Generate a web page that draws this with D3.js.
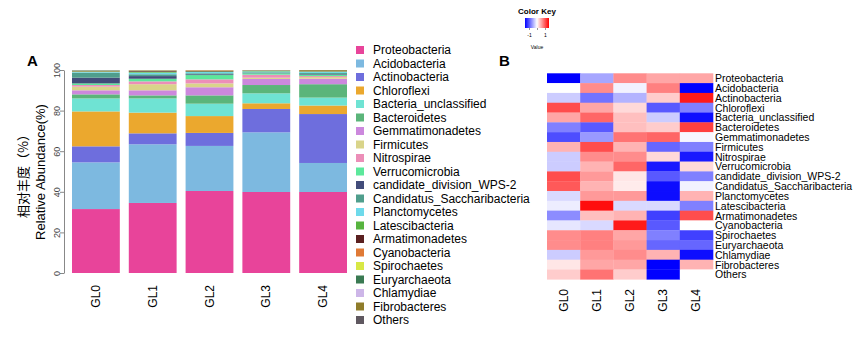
<!DOCTYPE html>
<html lang="en">
<head>
<meta charset="UTF-8">
<title>Relative abundance and heatmap</title>
<script src="https://d3js.org/d3.v7.min.js"></script>
<style>
  body { margin: 0; background: #fff; }
  svg { display: block; font-family: "Liberation Sans", Arial, sans-serif; }
</style>
</head>
<body>
<svg id="chart" width="865" height="341"></svg>
<script>
const groups = ["GL0", "GL1", "GL2", "GL3", "GL4"];

const phyla = [
  "Proteobacteria", "Acidobacteria", "Actinobacteria", "Chloroflexi",
  "Bacteria_unclassified", "Bacteroidetes", "Gemmatimonadetes", "Firmicutes",
  "Nitrospirae", "Verrucomicrobia", "candidate_division_WPS-2",
  "Candidatus_Saccharibacteria", "Planctomycetes", "Latescibacteria",
  "Armatimonadetes", "Cyanobacteria", "Spirochaetes", "Euryarchaeota",
  "Chlamydiae", "Fibrobacteres", "Others"
];

const phylumColors = [
  "#e8449a", "#7db9e0", "#6e6edd", "#eba82e", "#6fe3d3", "#5bb57a",
  "#cc88dd", "#d9d48a", "#ec8eb8", "#5ce89b", "#424c7a", "#4f9e8c",
  "#6edaeb", "#57b43f", "#5a2020", "#e07a36", "#d8e845", "#3a7a52",
  "#cdb6e8", "#8f7c2a", "#5f5860"
];

// relative abundance (%) per group, same order as phyla
const gl0 = [31.5, 23.0, 7.9, 17.2, 6.4, 2.0, 2.0, 1.8, 0.8, 0.8, 2.8, 2.5, 0.3, 0.3, 0.1, 0.1, 0.1, 0.2, 0.1, 0.05, 0.05];
const gl1 = [34.5, 28.9, 5.4, 10.2, 7.0, 1.5, 2.5, 3.0, 1.4, 1.3, 1.3, 0.9, 0.8, 0.5, 0.3, 0.1, 0.1, 0.1, 0.05, 0.1, 0.05];
const gl2 = [40.4, 22.2, 6.4, 8.3, 6.1, 4.1, 4.0, 1.9, 2.0, 2.1, 0.4, 0.5, 0.6, 0.3, 0.2, 0.3, 0.05, 0.05, 0.05, 0.03, 0.02];
const gl3 = [39.9, 29.4, 11.5, 2.8, 4.9, 4.1, 3.0, 0.6, 1.5, 0.7, 0.2, 0.3, 0.4, 0.2, 0.05, 0.05, 0.05, 0.1, 0.05, 0.15, 0.05];
const gl4 = [39.9, 14.3, 24.1, 4.2, 3.9, 6.6, 2.7, 0.8, 0.5, 0.7, 0.3, 0.5, 0.5, 0.2, 0.1, 0.05, 0.05, 0.1, 0.05, 0.4, 0.05];

const yTicks = [0, 20, 40, 60, 80, 100];

// scaled values for heatmap, one row per phylum, columns GL0..GL4
const heatRows = [
  [-1.0, -0.35, 0.45, 0.35, 0.35],
  [0.0, 0.45, -0.05, 0.5, -1.0],
  [-0.2, -0.55, -0.3, 0.2, 0.9],
  [0.7, 0.35, 0.15, -0.65, -0.5],
  [0.35, 0.6, 0.25, -0.2, -0.95],
  [-0.5, -0.65, 0.25, 0.2, 0.75],
  [-0.7, -0.4, 0.55, 0.6, -0.03],
  [0.3, 0.7, 0.3, -0.6, -0.5],
  [-0.2, 0.45, 0.45, 0.15, -0.9],
  [-0.2, 0.3, 0.6, -0.9, 0.15],
  [0.7, 0.4, 0.1, -0.65, -0.5],
  [0.65, 0.3, 0.08, -0.95, -0.05],
  [-0.15, 0.4, 0.4, -0.95, 0.3],
  [-0.07, 0.95, -0.15, -0.15, -0.5],
  [-0.45, 0.25, 0.3, -0.75, 0.7],
  [-0.1, -0.15, 0.9, -0.65, 0.0],
  [0.45, 0.5, 0.35, -0.5, -0.75],
  [0.45, 0.5, 0.4, -0.6, -0.6],
  [-0.2, 0.4, 0.45, 0.3, -0.95],
  [0.1, 0.35, 0.35, -1.0, 0.3],
  [0.2, 0.55, 0.2, -1.0, 0.0]
];

const svg = d3.select("#chart");
const groupValues = [gl0, gl1, gl2, gl3, gl4];

// ---------- panel A: stacked bars ----------
const x = d3.scaleBand().domain(groups).range([72, 347]).paddingInner(0.158);
const y = d3.scaleLinear().domain([0, 100]).range([273, 70]);
const color = d3.scaleOrdinal().domain(phyla).range(phylumColors);

const rows = groups.map((g, i) => {
  const r = { group: g };
  phyla.forEach((p, j) => { r[p] = groupValues[i][j]; });
  return r;
});
const series = d3.stack().keys(phyla)(rows);

const barG = svg.append("g");
barG.selectAll("g")
  .data(series)
  .join("g")
  .attr("fill", d => color(d.key))
  .selectAll("rect")
  .data(d => d)
  .join("rect")
  .attr("x", d => x(d.data.group))
  .attr("width", x.bandwidth())
  .attr("y", d => y(d[1]))
  .attr("height", d => Math.max(0, y(d[0]) - y(d[1])));

const yAxis = svg.append("g")
  .attr("transform", "translate(64,0)")
  .call(d3.axisLeft(y).tickValues(yTicks).tickSize(4).tickSizeOuter(0));
yAxis.select(".domain").attr("stroke", "#888");
yAxis.selectAll(".tick line").attr("stroke", "#888");
yAxis.selectAll(".tick text")
  .attr("x", 0).attr("y", 0)
  .attr("text-anchor", "middle")
  .attr("dominant-baseline", "auto")
  .attr("transform", "translate(-7,0) rotate(-90)")
  .attr("font-size", 9)
  .attr("fill", "#444");

svg.selectAll(".xlab")
  .data(groups)
  .join("text")
  .attr("class", "xlab")
  .attr("transform", d => `translate(${x(d) + x.bandwidth() / 2},285) rotate(-90)`)
  .attr("text-anchor", "end")
  .attr("dominant-baseline", "central")
  .attr("font-size", 12)
  .text(d => d);

svg.append("text")
  .attr("transform", "translate(22,173) rotate(-90)")
  .attr("text-anchor", "middle")
  .attr("dominant-baseline", "central")
  .attr("font-family", "'Noto Sans CJK SC', sans-serif")
  .attr("font-size", 13)
  .text("相对丰度（%）");
svg.append("text")
  .attr("transform", "translate(40,172) rotate(-90)")
  .attr("text-anchor", "middle")
  .attr("dominant-baseline", "central")
  .attr("font-size", 13)
  .text("Relative Abundance(%)");

svg.append("text").attr("x", 27).attr("y", 66)
  .attr("font-size", 15).attr("font-weight", "bold").text("A");

// legend
const legend = svg.append("g");
const item = legend.selectAll("g")
  .data(phyla)
  .join("g")
  .attr("transform", (d, i) => `translate(356,${50 + i * 13.5})`);
item.append("rect")
  .attr("y", -4).attr("width", 8).attr("height", 8)
  .attr("fill", d => color(d));
item.append("text")
  .attr("x", 17).attr("dominant-baseline", "central")
  .attr("font-size", 12)
  .text(d => d);

// ---------- panel B: heatmap ----------
svg.append("text").attr("x", 499).attr("y", 66)
  .attr("font-size", 15).attr("font-weight", "bold").text("B");

const hx = d3.scaleBand().domain(groups).range([547, 713]);
const hy = d3.scaleBand().domain(phyla).range([73.3, 279.3]);
const heat = d3.scaleLinear().domain([-1, 0, 1]).range(["#0000ff", "#ffffff", "#ff0000"]).clamp(true);

const cells = [];
heatRows.forEach((r, i) => r.forEach((v, j) => cells.push({ p: phyla[i], g: groups[j], v })));
svg.append("g").selectAll("rect")
  .data(cells)
  .join("rect")
  .attr("x", d => hx(d.g))
  .attr("y", d => hy(d.p))
  .attr("width", hx.bandwidth() + 0.3)
  .attr("height", hy.bandwidth() + 0.3)
  .attr("fill", d => heat(d.v));

svg.selectAll(".rowlab")
  .data(phyla)
  .join("text")
  .attr("class", "rowlab")
  .attr("x", 715)
  .attr("y", d => hy(d) + hy.bandwidth() / 2)
  .attr("dominant-baseline", "central")
  .attr("font-size", 10.5)
  .text(d => d);

svg.selectAll(".collab")
  .data(groups)
  .join("text")
  .attr("class", "collab")
  .attr("transform", d => `translate(${hx(d) + hx.bandwidth() / 2},289) rotate(-90)`)
  .attr("text-anchor", "end")
  .attr("dominant-baseline", "central")
  .attr("font-size", 12)
  .text(d => d);

// color key
const defs = svg.append("defs");
const grad = defs.append("linearGradient").attr("id", "keyGrad");
[-1, -0.5, 0, 0.5, 1].forEach(v => {
  grad.append("stop").attr("offset", `${(v + 1) * 50}%`).attr("stop-color", heat(v));
});
const kx = d3.scaleLinear().domain([-1.5, 1.5]).range([525, 549]);
svg.append("text").attr("x", 537).attr("y", 14)
  .attr("text-anchor", "middle").attr("font-size", 8).attr("font-weight", "bold")
  .text("Color Key");
svg.append("rect").attr("x", 525).attr("y", 18).attr("width", 24).attr("height", 10)
  .attr("fill", "url(#keyGrad)");
const keyAxis = svg.append("g")
  .attr("transform", "translate(0,28)")
  .call(d3.axisBottom(kx).tickValues([-1, 0, 1]).tickSize(2).tickFormat(d => d === 0 ? "" : d));
keyAxis.select(".domain").remove();
keyAxis.selectAll(".tick line").attr("stroke", "#333").attr("stroke-width", 0.5);
keyAxis.selectAll(".tick text").attr("font-size", 5).attr("y", 5).attr("font-family", "Liberation Sans, Arial, sans-serif");
svg.append("text").attr("x", 537).attr("y", 49)
  .attr("text-anchor", "middle").attr("font-size", 5).text("Value");
</script>
</body>
</html>
